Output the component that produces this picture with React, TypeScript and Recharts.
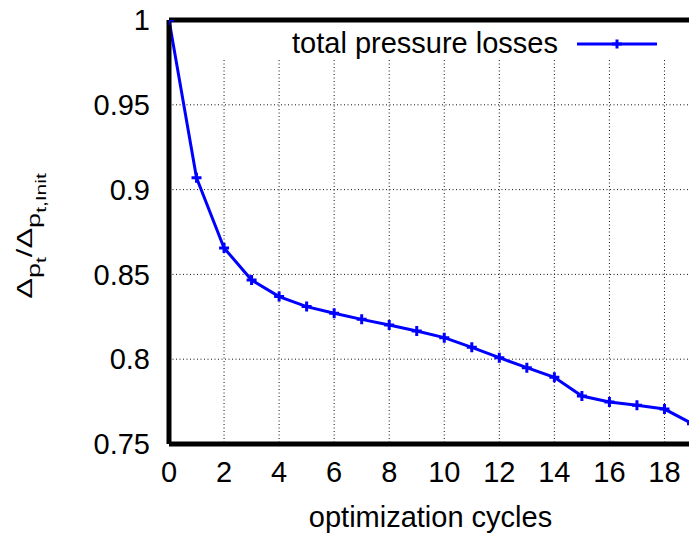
import { LineChart, Line, XAxis, YAxis, CartesianGrid, Legend, Label } from "recharts";

// optimization cycle index and normalised total pressure loss
const cycles = [0, 1, 2, 3, 4, 5, 6, 7, 8, 9, 10, 11, 12, 13, 14, 15, 16, 17, 18, 19];
const lossRatio = [
  1.0, 0.907, 0.8656, 0.8467, 0.8369, 0.831, 0.8271, 0.8235, 0.8202, 0.8166,
  0.8127, 0.807, 0.8009, 0.795, 0.7893, 0.7783, 0.7748, 0.7728, 0.7706, 0.762,
];
const xTicks = [0, 2, 4, 6, 8, 10, 12, 14, 16, 18];
const yTicks = [0.75, 0.8, 0.85, 0.9, 0.95, 1];
const xDomain = [0, 19];
const yDomain = [0.75, 1];
const seriesName = "total pressure losses";
const xTitle = "optimization cycles";

const data = cycles.map((c, i) => ({ cycle: c, ratio: lossRatio[i] }));

const FONT = '"Liberation Sans", Arial, Helvetica, sans-serif';
const BLUE = "#0000ff";
const W = 700;
const H = 537;

// gnuplot-style "+" point
function PlusDot(props: any) {
  const { cx, cy } = props;
  if (cx == null || cy == null) return null;
  const s = 5;
  return (
    <path
      d={`M${cx - s},${cy}h${2 * s}M${cx},${cy - s}v${2 * s}`}
      stroke={BLUE}
      strokeWidth={3}
      fill="none"
    />
  );
}

// Δ_{p_t}/Δ_{p_t,Init}, rotated and a bit squashed like the original
function YTitle(props: any) {
  const vb = props.viewBox ?? { y: 20, height: 424 };
  const cx = 31.7;
  const cy = vb.y + vb.height / 2 + 4;
  return (
    <text
      transform={`translate(${cx},${cy}) rotate(-90) scale(1,0.7)`}
      x={0}
      y={0}
      textAnchor="middle"
      fontFamily={FONT}
      fontSize={31}
      fill="#000"
    >
      <tspan>Δ</tspan>
      <tspan fontSize={27} dy={12}>p</tspan>
      <tspan fontSize={21} dy={8}>t</tspan>
      <tspan dy={-20}>/Δ</tspan>
      <tspan fontSize={27} dy={12}>p</tspan>
      <tspan fontSize={21} dy={8}>t,Init</tspan>
    </text>
  );
}

function KeyBox() {
  return (
    <div style={{ display: "flex", alignItems: "flex-start", height: 32 }}>
      <span style={{ fontFamily: FONT, fontSize: 29, lineHeight: "32px", color: "#000", whiteSpace: "nowrap" }}>
        {seriesName}
      </span>
      <svg width={80} height={32} style={{ marginLeft: 19, display: "block" }}>
        <line x1={0} y1={17} x2={80} y2={17} stroke={BLUE} strokeWidth={3} />
        <path d="M35,17h10M40,12.5v9" stroke={BLUE} strokeWidth={3} />
      </svg>
    </div>
  );
}

export default function App() {
  const tickStyle = { fill: "#000", fontSize: 29, fontFamily: FONT };
  const border = { stroke: "#000", strokeWidth: 5 };
  const inTick = { stroke: "#000", strokeWidth: 2 };

  return (
    <div
      style={{
        position: "fixed", left: 0, top: 0, width: 689, height: 537,
        overflow: "hidden", background: "#fff",
      }}
    >
      <LineChart width={W} height={H} data={data} margin={{ top: 20, right: 8, bottom: 0, left: 0 }}>
        <CartesianGrid
          xAxisId="x" yAxisId="y" vertical={false}
          stroke="#111" strokeDasharray="1 2.5"
        />
        <CartesianGrid
          xAxisId="x" yAxisId="y" horizontal={false}
          y={60} height={384}
          stroke="#111" strokeDasharray="1 2.5"
        />

        <XAxis
          xAxisId="x" dataKey="cycle" type="number" domain={xDomain} ticks={xTicks}
          allowDataOverflow height={93} axisLine={border} tickLine={false}
          tickSize={8} tickMargin={9} tick={tickStyle}
        >
          <Label
            value={xTitle} position="insideBottom" offset={10}
            style={{ fill: "#000", fontSize: 29, fontFamily: FONT }}
          />
        </XAxis>
        <XAxis
          xAxisId="xb" type="number" domain={xDomain} ticks={xTicks} allowDataOverflow
          mirror axisLine={false} tick={false} tickLine={inTick} tickSize={8}
        />
        <XAxis
          xAxisId="xt" orientation="top" type="number" domain={xDomain} ticks={xTicks}
          allowDataOverflow mirror axisLine={border} tick={false} tickLine={inTick} tickSize={8}
        />

        <YAxis
          yAxisId="y" type="number" domain={yDomain} ticks={yTicks} allowDataOverflow
          width={169} axisLine={border} tickLine={false} tickSize={8} tickMargin={11}
          tick={tickStyle} interval={0}
        >
          <Label content={YTitle} />
        </YAxis>
        <YAxis
          yAxisId="yl" type="number" domain={yDomain} ticks={yTicks} allowDataOverflow
          mirror axisLine={false} tick={false} tickLine={inTick} tickSize={8}
        />
        <YAxis
          yAxisId="yr" orientation="right" type="number" domain={yDomain} ticks={yTicks}
          allowDataOverflow mirror axisLine={border} tick={false} tickLine={inTick} tickSize={8}
        />

        <Legend
          layout="vertical" align="center" verticalAlign="middle"
          content={KeyBox}
          wrapperStyle={{ top: 27, left: "auto", right: W - 657, width: "auto", height: 32 }}
        />

        <Line
          xAxisId="x" yAxisId="y"
          type="linear" dataKey="ratio" name={seriesName}
          stroke={BLUE} strokeWidth={3}
          dot={PlusDot} activeDot={false}
          isAnimationActive={false}
        />
      </LineChart>
    </div>
  );
}
